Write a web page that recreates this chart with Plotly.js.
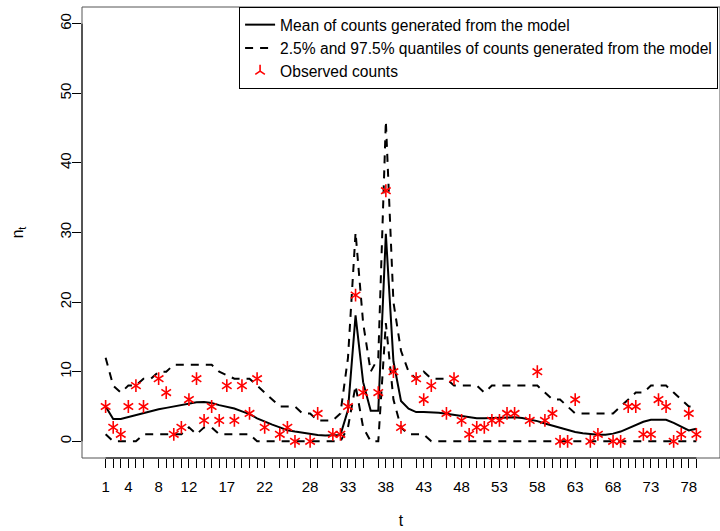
<!DOCTYPE html>
<html>
<head>
<meta charset="utf-8">
<script src="https://cdn.plot.ly/plotly-3.0.1.min.js"></script>
<style>html,body{margin:0;padding:0;background:#fff;}#chart{width:720px;height:531px;}</style>
</head>
<body>
<div id="chart"></div>
<script>
// time index for the model summaries
var tAll = [];
for (var i = 1; i <= 79; i++) tAll.push(i);

// mean of counts generated from the model
var meanCounts = [5.0,3.2,3.2,3.5,3.8,4.1,4.3,4.6,4.8,5.0,
  5.2,5.5,5.6,5.65,5.5,5.2,5.0,4.7,4.3,3.9,
  3.3,2.8,2.4,2.0,1.6,1.4,1.2,1.0,0.9,0.85,
  0.85,0.9,4.5,18.1,8.5,4.4,4.4,29.8,11.5,5.8,
  4.7,4.2,4.2,4.2,4.1,3.95,3.8,3.6,3.5,3.3,
  3.3,3.35,3.45,3.5,3.45,3.35,3.15,2.9,2.55,2.25,
  1.9,1.6,1.35,1.15,1.0,0.95,0.95,1.1,1.4,1.9,
  2.4,2.8,3.1,3.15,3.1,2.65,2.1,1.55,1.8];

// 97.5% quantile
var upperQ = [12,8,7,8,8,9,9,10,10,11,
  11,11,11,11,11,10,9.5,9,9,9,
  8,7,6,5,5,5,4,4,3,3,
  3,4,12,30,17,10,12,46,20,13,
  10,9,10,9,9,9,8,8,8,8,
  7,8,8,8,8,8,8,8,7,6,
  6,5,4,4,4,4,4,4,5,6,
  7,7,8,8,8,7,6,5,5];

// 2.5% quantile
var lowerQ = [1,0,0,0,0,1,1,1,1,1,
  1,2,1,2,2,1,1,1,1,1,
  0,0,0,0,0,0,0,0,0,0,
  0,0,2,8,2,0,0,17,6,2,
  1,1,1,0,0,0,0,0,0,0,
  0,0,0,0,0,0,0,0,0,0,
  0,0,0,0,0,0,0,0,0,0,
  0,0,0,0,0,0,0,0,0];

// observed counts (time points with an observation)
var obsT = [1,2,3,4,5,6,8,9,10,11,12,13,14,15,16,17,18,19,20,21,22,24,25,26,28,29,
  31,32,33,34,35,37,38,39,40,42,43,44,46,47,48,49,50,51,52,53,54,55,57,58,59,60,61,62,63,
  65,66,68,69,70,71,72,73,74,75,76,77,78,79];
var obsCounts = [5,2,1,5,8,5,9,7,1,2,6,9,3,5,3,8,3,8,4,9,2,1,2,0,0,4,
  1,1,5,21,7,7,36,10,2,9,6,8,4,9,3,1,2,2,3,3,4,4,3,10,3,4,0,0,6,
  0,1,0,0,5,5,1,1,6,5,0,1,4,1];

// x tick labels that are printed
var shownLabels = [1,4,8,12,17,22,28,33,38,43,48,53,58,63,68,73,78];
var yTicks = [0,10,20,30,40,50,60];

var legendTexts = ["Mean of counts generated from the model",
  "2.5% and 97.5% quantiles of counts generated from the model",
  "Observed counts"];

var FONT = "Liberation Sans, Arial, Helvetica, sans-serif";
var dashStyle = "8px,7px";

var traces = [
  {x: tAll, y: meanCounts, type: "scatter", mode: "lines", name: legendTexts[0],
   line: {color: "black", width: 2}},
  {x: tAll, y: upperQ, type: "scatter", mode: "lines", name: legendTexts[1],
   legendgroup: "q", line: {color: "black", width: 2, dash: dashStyle}},
  {x: tAll, y: lowerQ, type: "scatter", mode: "lines", name: legendTexts[1],
   legendgroup: "q", showlegend: false, line: {color: "black", width: 2, dash: dashStyle}},
  {x: obsT, y: obsCounts, type: "scatter", mode: "markers", name: legendTexts[2],
   legendgroup: "o",
   marker: {symbol: "y-up-open", size: 8, color: "red", line: {color: "red", width: 1.6}}},
  {x: obsT, y: obsCounts, type: "scatter", mode: "markers", name: legendTexts[2],
   legendgroup: "o", showlegend: false,
   marker: {symbol: "y-down-open", size: 8, color: "red", line: {color: "red", width: 1.6}}}
];

var tickText = obsT.map(function (v) { return shownLabels.indexOf(v) >= 0 ? String(v) : ""; });

var xMin = Math.min.apply(null, obsT), xMax = Math.max.apply(null, obsT);
var xPad = (xMax - xMin) * 0.04;
var yMin = yTicks[0], yMax = yTicks[yTicks.length - 1];
var yPad = (yMax - yMin) * 0.04;

var layout = {
  width: 720, height: 531,
  margin: {l: 82, r: 0, t: 7, b: 73},
  paper_bgcolor: "white", plot_bgcolor: "white",
  font: {family: FONT, color: "black", size: 15},
  showlegend: true,
  xaxis: {
    range: [xMin - xPad, xMax + xPad],
    tickmode: "array", tickvals: obsT, ticktext: tickText,
    ticks: "outside", ticklen: 9, tickwidth: 1, tickcolor: "black",
    showgrid: false, zeroline: false, showline: false,
    tickfont: {family: FONT, size: 15, color: "black"},
    ticklabelstandoff: 6,
    title: {text: "t", font: {family: FONT, size: 15.6, color: "black"}, standoff: 21}
  },
  yaxis: {
    range: [yMin - yPad, yMax + yPad],
    tickmode: "array", tickvals: yTicks,
    tickangle: -90,
    ticks: "outside", ticklen: 9, tickwidth: 1, tickcolor: "black",
    showgrid: false, zeroline: false, showline: false,
    tickfont: {family: FONT, size: 15, color: "black"},
    ticklabelstandoff: -5,
    title: {text: "n<sub>t</sub>", font: {family: FONT, size: 15.6, color: "black"}, standoff: 29}
  },
  legend: {
    x: 0.997, xanchor: "right", y: 1, yanchor: "top",
    bgcolor: "white", bordercolor: "black", borderwidth: 1,
    font: {family: FONT, size: 15.6, color: "black"},
    tracegroupgap: 0, traceorder: "normal"
  },
  shapes: [
    {type: "rect", xref: "paper", yref: "paper", x0: 0, x1: 1, y0: 0, y1: 1,
     line: {color: "#555", width: 1}, layer: "above"},
    {type: "line", xref: "x", yref: "paper", x0: xMin, x1: xMax, y0: 0, y1: 0,
     line: {color: "black", width: 1}},
    {type: "line", xref: "paper", yref: "y", x0: 0, x1: 0, y0: yMin, y1: yMax,
     line: {color: "black", width: 1}}
  ]
};

Plotly.newPlot("chart", traces, layout, {displayModeBar: false, staticPlot: true});
</script>
</body>
</html>
